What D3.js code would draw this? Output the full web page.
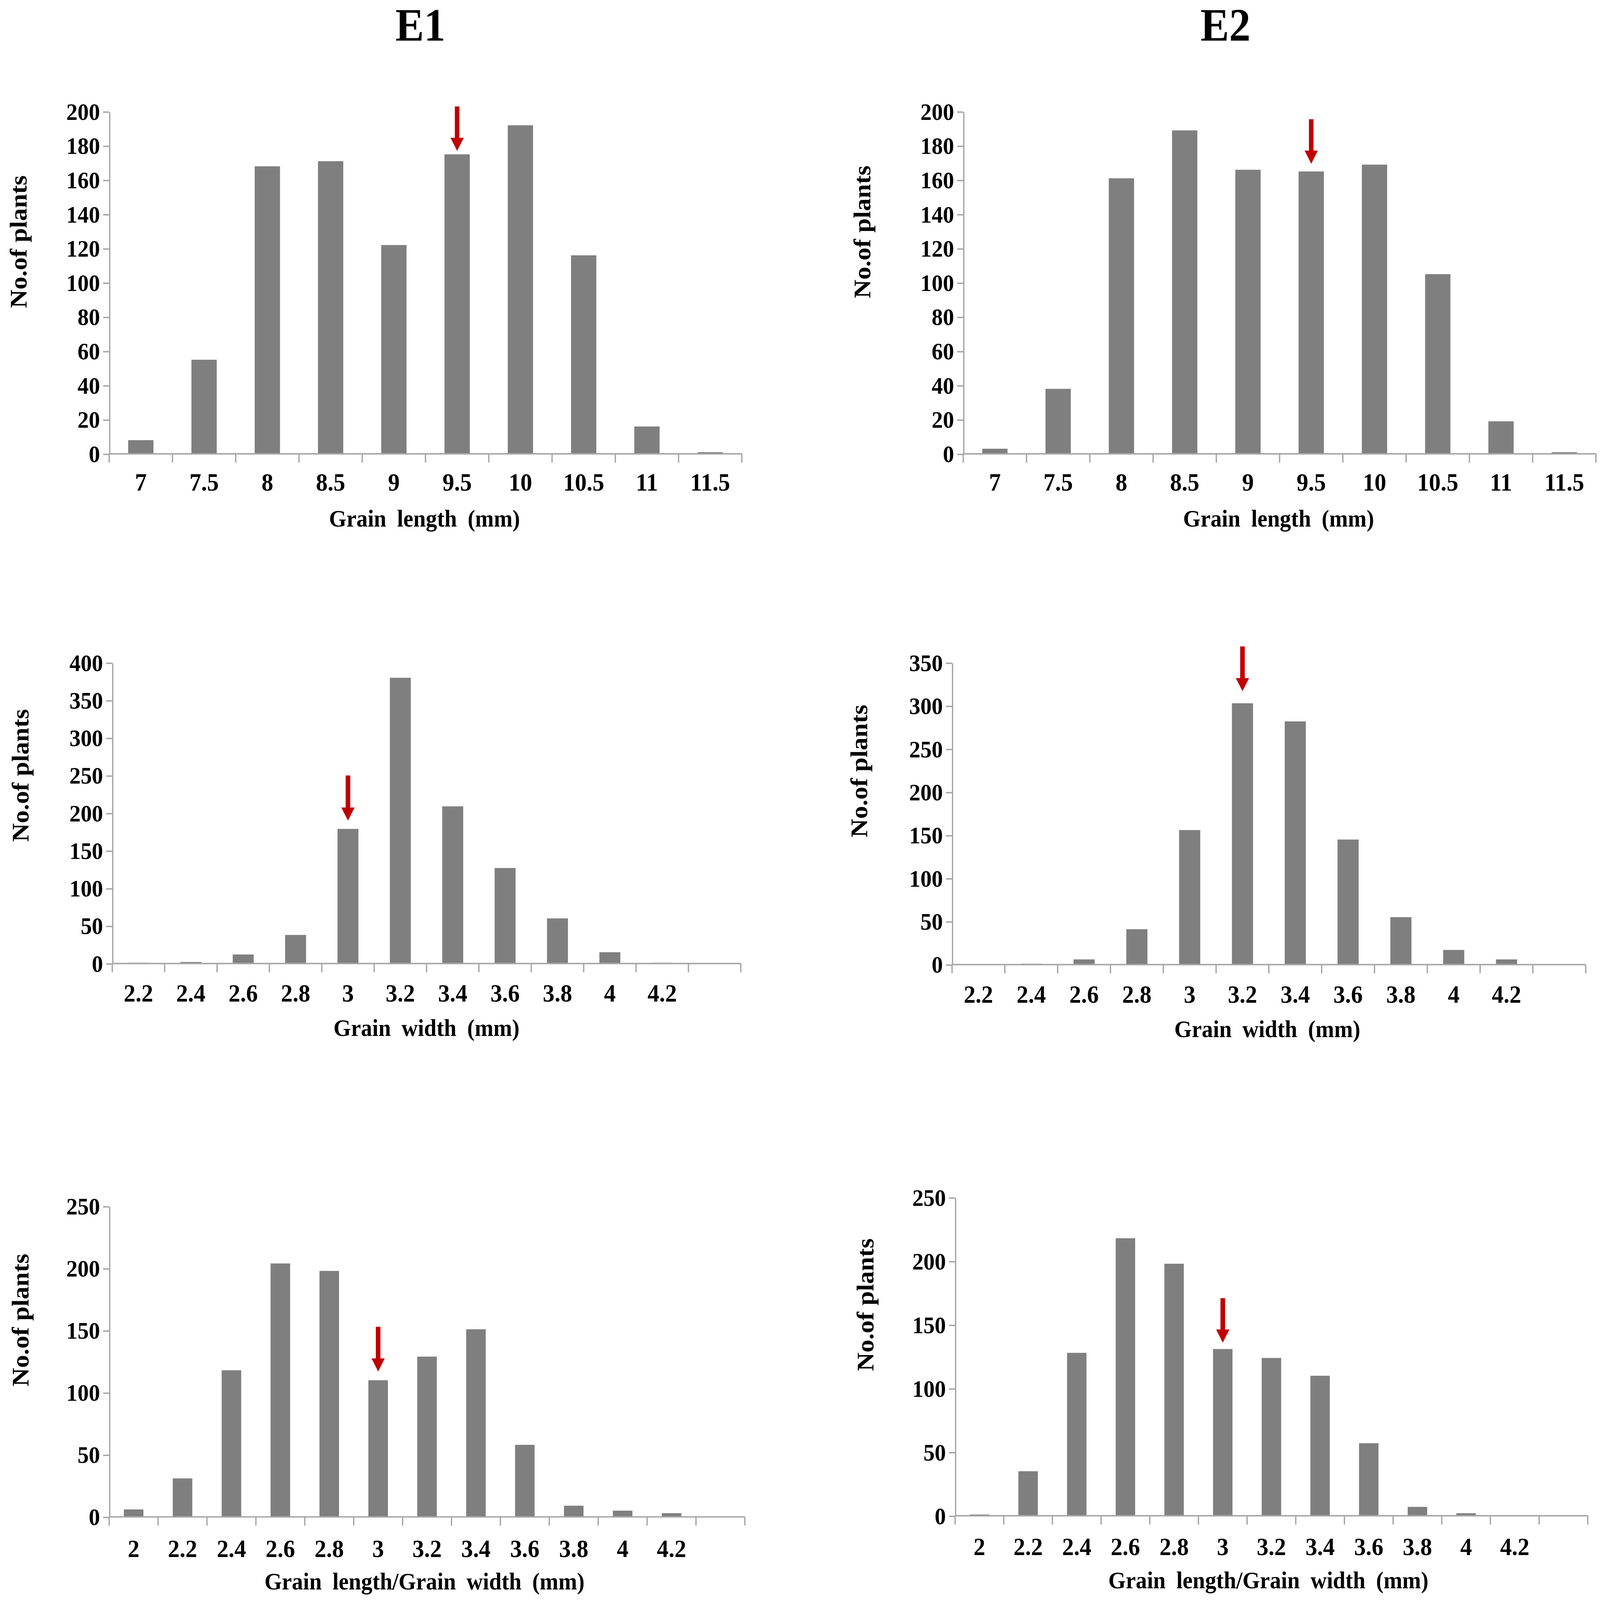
<!DOCTYPE html>
<html>
<head>
<meta charset="utf-8">
<script src="https://cdn.jsdelivr.net/npm/d3@7"></script>
<style>
  html, body { margin: 0; padding: 0; background: #fff; overflow: hidden; }
  svg { display: block; width: 100vw; height: 100vh; }
  text { font-family: "Liberation Serif", "Times New Roman", serif; font-weight: bold; fill: #000; }
</style>
</head>
<body>
<div class="container"></div>
<script>
// categories
const lengthCats = ["7", "7.5", "8", "8.5", "9", "9.5", "10", "10.5", "11", "11.5"];
const widthCats = ["2.2", "2.4", "2.6", "2.8", "3", "3.2", "3.4", "3.6", "3.8", "4", "4.2"];
const ratioCats = ["2", "2.2", "2.4", "2.6", "2.8", "3", "3.2", "3.4", "3.6", "3.8", "4", "4.2"];

// no. of plants per class
const lengthE1 = [8, 55, 168, 171, 122, 175, 192, 116, 16, 1];
const lengthE2 = [3, 38, 161, 189, 166, 165, 169, 105, 19, 1];
const widthE1 = [1, 2, 12, 38, 179, 380, 209, 127, 60, 15, 1];
const widthE2 = [0, 1, 6, 41, 156, 303, 282, 145, 55, 17, 6];
const ratioE1 = [6, 31, 118, 204, 198, 110, 129, 151, 58, 9, 5, 3];
const ratioE2 = [1, 35, 128, 218, 198, 131, 124, 110, 57, 7, 2, 0];

// y tick labels
const lengthTicks = [0, 20, 40, 60, 80, 100, 120, 140, 160, 180, 200];
const widthE1Ticks = [0, 50, 100, 150, 200, 250, 300, 350, 400];
const widthE2Ticks = [0, 50, 100, 150, 200, 250, 300, 350];
const ratioTicks = [0, 50, 100, 150, 200, 250];

// red arrows (TL, TR, ML, MR, BL, BR): class, tip value, tail value
const arrowCat = ["9.5", "9.5", "3", "3.2", "3", "3"];
const arrowTip = [177, 169.5, 190, 317, 117, 136];
const arrowTail = [203, 195.5, 250, 369, 153, 171];

const envTitles = ["E1", "E2"];
const xTitles = ["Grain length (mm)", "Grain width (mm)", "Grain length/Grain width (mm)"];

// layout (in a 1568 x 1463 design space, stretched to the window by the viewBox)
const W = 1568, H = 1463;
const panels = [
  {cats: lengthCats, vals: lengthE1, ticks: lengthTicks, extra: 0, xt: 0, x0: 107, x1: 727, yTop: 102, y0: 415, labY: 441, tX: 416, tY: 474, yX: 18, yY: 221},
  {cats: lengthCats, vals: lengthE2, ticks: lengthTicks, extra: 0, xt: 0, x0: 944, x1: 1564, yTop: 102, y0: 415, labY: 441, tX: 1253, tY: 474, yX: 845, yY: 212},
  {cats: widthCats, vals: widthE1, ticks: widthE1Ticks, extra: 1, xt: 1, x0: 110, x1: 726, yTop: 606, y0: 881, labY: 908, tX: 418, tY: 940, yX: 20, yY: 709},
  {cats: widthCats, vals: widthE2, ticks: widthE2Ticks, extra: 1, xt: 1, x0: 933, x1: 1554, yTop: 606, y0: 882, labY: 909, tX: 1242, tY: 941, yX: 842, yY: 705},
  {cats: ratioCats, vals: ratioE1, ticks: ratioTicks, extra: 1, xt: 2, x0: 107, x1: 730, yTop: 1103, y0: 1387, labY: 1416, tX: 416, tY: 1446, yX: 20, yY: 1207},
  {cats: ratioCats, vals: ratioE2, ticks: ratioTicks, extra: 1, xt: 2, x0: 936, x1: 1556, yTop: 1095, y0: 1386, labY: 1414, tX: 1243, tY: 1445, yX: 848, yY: 1193}
];

const axisColor = "#a6a6a6";
const barColor = "#7f7f7f";
const arrowColor = "#c00000";

const svg = d3.select(".container")
  .append("svg")
  .attr("viewBox", `0 0 ${W} ${H}`)
  .attr("preserveAspectRatio", "none");

// environment headers
svg.selectAll(".env")
  .data(envTitles)
  .enter().append("text")
  .attr("class", "env")
  .attr("x", (d, i) => i === 0 ? 412 : 1201)
  .attr("y", 37)
  .attr("text-anchor", "middle")
  .style("font-size", "42px")
  .text(d => d);

panels.forEach((p, i) => {
  const g = svg.append("g");

  // blank slots at the end of the axis
  const domain = p.cats.concat(d3.range(p.extra).map(k => "__blank" + k));
  const x = d3.scaleBand().domain(domain).range([p.x0, p.x1]).paddingInner(0.6).paddingOuter(0.3);
  const yMax = p.ticks[p.ticks.length - 1];
  const y = d3.scaleLinear().domain([0, yMax]).range([p.y0, p.yTop]);

  // bars
  g.selectAll(".bar")
    .data(p.cats.map((c, k) => ({cat: c, v: p.vals[k]})))
    .enter().append("rect")
    .attr("class", "bar")
    .attr("x", d => x(d.cat))
    .attr("width", x.bandwidth())
    .attr("y", d => y(d.v))
    .attr("height", d => y(0) - y(d.v))
    .style("fill", barColor);

  // y axis
  const yAxis = g.append("g")
    .attr("transform", `translate(${p.x0},0)`)
    .call(d3.axisLeft(y).tickValues(p.ticks).tickSize(6).tickSizeOuter(0).tickPadding(3));
  yAxis.select(".domain").attr("stroke", axisColor).attr("stroke-width", 1.3);
  yAxis.selectAll(".tick line").attr("stroke", axisColor).attr("stroke-width", 1.3);
  yAxis.selectAll(".tick text")
    .attr("fill", "#000")
    .style("font-size", "22px")
    .style("font-family", "'Liberation Serif', 'Times New Roman', serif")
    .style("font-weight", "bold");

  // x axis line and class boundary ticks
  g.append("line")
    .attr("x1", p.x0).attr("x2", p.x1)
    .attr("y1", y(0)).attr("y2", y(0))
    .attr("stroke", axisColor).attr("stroke-width", 1.3);
  const step = x.step();
  g.selectAll(".xtick")
    .data(d3.range(domain.length + 1))
    .enter().append("line")
    .attr("class", "xtick")
    .attr("x1", k => p.x0 + k * step).attr("x2", k => p.x0 + k * step)
    .attr("y1", y(0)).attr("y2", y(0) + 8)
    .attr("stroke", axisColor).attr("stroke-width", 1.3);

  // x tick labels
  g.selectAll(".xlab")
    .data(p.cats)
    .enter().append("text")
    .attr("class", "xlab")
    .attr("x", d => x(d) + x.bandwidth() / 2)
    .attr("y", p.labY)
    .attr("text-anchor", "middle")
    .attr("dominant-baseline", "central")
    .style("font-size", "23px")
    .text(d => d);

  // axis titles
  g.append("text")
    .attr("x", p.tX)
    .attr("y", p.tY)
    .attr("text-anchor", "middle")
    .attr("dominant-baseline", "central")
    .style("font-size", "22px")
    .style("word-spacing", "5px")
    .text(xTitles[p.xt]);

  g.append("text")
    .attr("transform", `translate(${p.yX},${p.yY}) rotate(-90)`)
    .attr("text-anchor", "middle")
    .attr("dominant-baseline", "central")
    .style("font-size", "23.5px")
    .text("No.of plants");

  // red arrow pointing at the check variety class
  const ax = x(arrowCat[i]) + x.bandwidth() / 2;
  const tipY = y(arrowTip[i]);
  const tailY = y(arrowTail[i]);
  const headLen = 12, headW = 6.5;
  g.append("line")
    .attr("x1", ax).attr("x2", ax)
    .attr("y1", tailY).attr("y2", tipY - headLen + 1)
    .attr("stroke", arrowColor).attr("stroke-width", 4.5);
  g.append("path")
    .attr("d", `M${ax - headW},${tipY - headLen} L${ax + headW},${tipY - headLen} L${ax},${tipY} Z`)
    .attr("fill", arrowColor);
});
</script>
</body>
</html>
